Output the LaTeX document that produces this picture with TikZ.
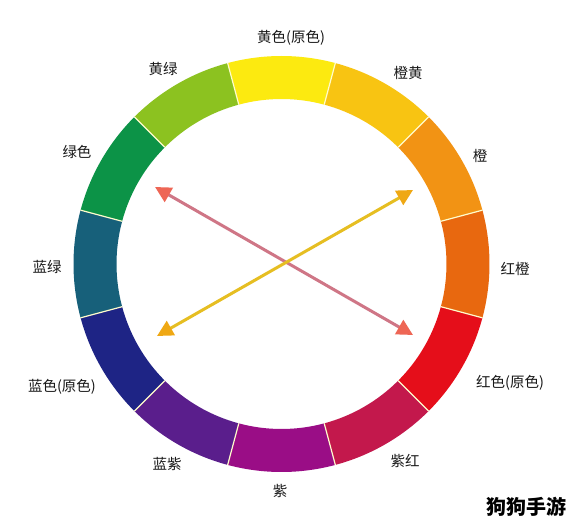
\documentclass[tikz,border=0pt]{standalone}
\usepackage{fontspec}
\newfontfamily\cjk{Noto Sans CJK SC}
\usetikzlibrary{arrows.meta}
\definecolor{cY}{HTML}{FCEA10}
\definecolor{cYO}{HTML}{F8C412}
\definecolor{cO}{HTML}{F29314}
\definecolor{cRO}{HTML}{E8680F}
\definecolor{cR}{HTML}{E50E1A}
\definecolor{cRV}{HTML}{C3184C}
\definecolor{cV}{HTML}{9A0D86}
\definecolor{cBV}{HTML}{5A1E8C}
\definecolor{cB}{HTML}{1E2485}
\definecolor{cBG}{HTML}{17607A}
\definecolor{cG}{HTML}{0C9347}
\definecolor{cYG}{HTML}{8CC220}
\definecolor{redline}{HTML}{CF7686}
\definecolor{redhead}{HTML}{EE6655}
\definecolor{yelline}{HTML}{E6BE22}
\definecolor{yelhead}{HTML}{EFA814}
\begin{document}
\begin{tikzpicture}[x=1pt,y=1pt,
  lbl/.style={font=\cjk\fontsize{14.5}{14.5}\selectfont, text=black!90, inner sep=0pt},
  sep/.style={white!80!yellow, line width=1.2pt},
  redarrow/.style={redline, line width=3pt, {Triangle[length=16pt,width=16pt,fill=redhead,color=redhead]}-{Triangle[length=16pt,width=16pt,fill=redhead,color=redhead]}},
  yelarrow/.style={yelline, line width=3pt, {Triangle[length=16pt,width=16pt,fill=yelhead,color=yelhead]}-{Triangle[length=16pt,width=16pt,fill=yelhead,color=yelhead]}}]
\useasboundingbox (0,0) rectangle (574,525);
\fill[white] (0,0) rectangle (574,525);
\begin{scope}[shift={(281.5,261)}]
  \foreach \c/\a in {cY/90,cYO/60,cO/30,cRO/0,cR/-30,cRV/-60,cV/-90,cBV/-120,cB/-150,cBG/-180,cG/-210,cYG/-240}{
    \fill[\c] (\a-15:208) arc[start angle=\a-15, end angle=\a+15, radius=208]
      -- (\a+15:165) arc[start angle=\a+15, end angle=\a-15, radius=165] -- cycle;
  }
  \foreach \a in {75,45,...,-255}{
    \draw[sep] (\a:165) -- (\a:208);
  }
\end{scope}
\node[lbl] (ly) at (291,487) {黄色(原色)};
\node[lbl] (lyo) at (408,452) {橙黄};
\node[lbl] (lo) at (480,369) {橙};
\node[lbl] (lro) at (515,256) {红橙};
\node[lbl] (lr) at (510,142) {红色(原色)};
\node[lbl] (lrv) at (405,64) {紫红};
\node[lbl] (lv) at (280,34) {紫};
\node[lbl] (lbv) at (167,61) {蓝紫};
\node[lbl] (lb) at (62,138) {蓝色(原色)};
\node[lbl] (lbg) at (47,258) {蓝绿};
\node[lbl] (lg) at (77,373) {绿色};
\node[lbl] (lyg) at (163,456) {黄绿};
\coordinate (r1) at (155,338);
\coordinate (r2) at (413,190);
\coordinate (y1) at (413,335);
\coordinate (y2) at (157,189);
\draw[redarrow] (r1) -- (r2);
\draw[yelarrow] (y1) -- (y2);
\node[font=\cjk\bfseries\fontsize{20}{20}\selectfont, inner sep=0pt] (wm) at (526,18) {狗狗手游};
\end{tikzpicture}
\end{document}
